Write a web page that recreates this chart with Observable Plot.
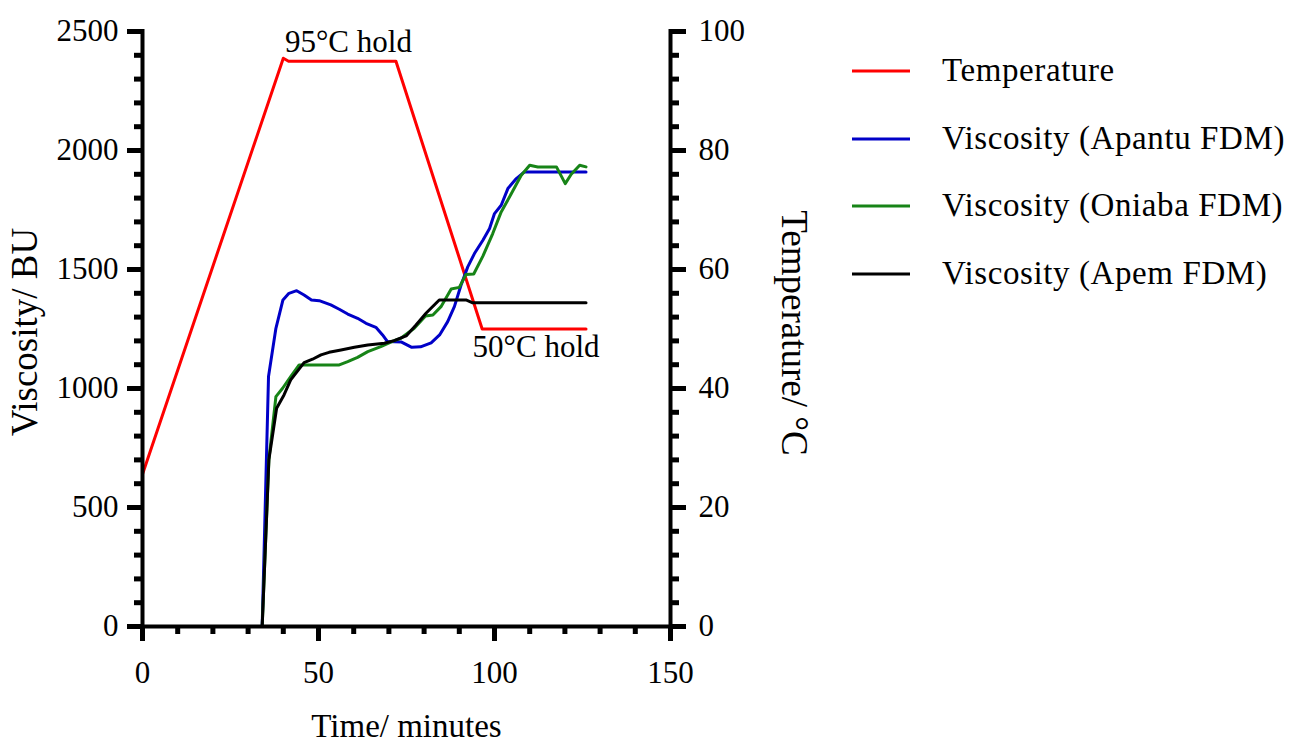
<!DOCTYPE html>
<html>
<head>
<meta charset="utf-8">
<script src="https://cdn.jsdelivr.net/npm/d3@7"></script>
<script src="https://cdn.jsdelivr.net/npm/@observablehq/plot@0.6"></script>
<style>
  html, body { margin: 0; padding: 0; background: #fff; }
  #wrap { position: relative; width: 1294px; height: 741px; }
  .leg { position: absolute; left: 852px; height: 0; font-family: "Liberation Serif", "Times New Roman", Tinos, "DejaVu Serif", serif; font-size: 33px; letter-spacing: 0.6px; color: #000; white-space: nowrap; }
  .leg svg { position: absolute; left: 0; top: -3px; }
  .leg span { position: absolute; left: 90px; top: 0; transform: translateY(-53%); line-height: 1; }
</style>
</head>
<body>
<div id="wrap"></div>
<script>
// ---- data (minutes, value) ----
const temperature = [[0,25.6],[40,95.5],[41.5,95],[72,95],[96.5,50],[126,50]]; // °C
const apantu = [[0,0],[34,0],[35.8,1050],[37.9,1253],[39.9,1372],[41.6,1400],[43.8,1411],[45.9,1393],[48,1372],[50.2,1369],[53.5,1351],[55.9,1333],[58.3,1313],[61.1,1295],[63.5,1274],[66.3,1257],[68.2,1225],[69.6,1197],[73.6,1195],[76.5,1173],[79,1175],[82,1192],[84.4,1225],[86.7,1281],[88.6,1344],[90.5,1435],[92.4,1511],[94.3,1567],[96.7,1623],[98.6,1672],[100,1735],[101.9,1770],[103.8,1840],[106.2,1882],[108.5,1910],[126,1910]];
const oniaba = [[0,0],[34,0],[35.9,700],[37.9,966],[39.8,1001],[42.1,1050],[44.5,1099],[55.9,1099],[58.3,1113],[61.1,1131],[64,1155],[67.7,1176],[71.5,1201],[73.4,1211],[77.2,1253],[80.4,1305],[82.5,1309],[84.8,1344],[87.7,1418],[90,1425],[91.9,1479],[94.1,1481],[96.7,1556],[99.5,1651],[101.9,1742],[104.8,1819],[107.6,1896],[110,1938],[112.3,1931],[117.6,1931],[120.1,1861],[121.8,1900],[124.2,1938],[126,1931]];
const apem = [[0,0],[34,0],[35.9,700],[38.1,917],[40.2,973],[42.1,1036],[45.9,1109],[48.3,1123],[50.7,1141],[53,1152],[56.4,1162],[60.2,1173],[64,1183],[68.7,1190],[71.5,1201],[74.9,1221],[77.7,1267],[80.6,1317],[84.3,1372],[91.9,1372],[93.8,1360],[126,1360]];

const seriesNames = ["Temperature", "Viscosity (Apantu FDM)", "Viscosity (Oniaba FDM)", "Viscosity (Apem FDM)"];
const seriesColors = ["#ff0000", "#0000c8", "#178417", "#000000"];

const xMajorTicks = [0, 50, 100, 150];
const yMajorTicks = [0, 500, 1000, 1500, 2000, 2500];
const tempMajorTicks = [0, 20, 40, 60, 80, 100];
const annotations = [
  {label: "95°C hold", time: 58.5, value: 2412},
  {label: "50°C hold", time: 111.8, value: 1131}
];
const BU_PER_DEG = 25; // right axis: 100 °C ↔ 2500 BU

const tickFont = 31;
const TW = 5; // tick stroke width
const serif = `"Liberation Serif", "Times New Roman", Tinos, "DejaVu Serif", serif`;

const chart = Plot.plot({
  width: 1294,
  height: 741,
  marginLeft: 142,
  marginRight: 624,
  marginTop: 31,
  marginBottom: 115,
  style: {fontFamily: serif, fontSize: tickFont + "px", color: "#000", background: "#fff", overflow: "visible"},
  x: {domain: [0, 150]},
  y: {domain: [0, 2500]},
  marks: [
    // minor ticks
    Plot.axisX({ticks: d3.range(0, 151, 10), tickSize: 8, tickFormat: () => "", strokeWidth: TW, label: null}),
    Plot.axisY({ticks: d3.range(0, 2501, 100), tickSize: 8, tickFormat: () => "", strokeWidth: TW, label: null}),
    Plot.axisY({anchor: "right", ticks: d3.range(0, 2501, 100), tickSize: 8, tickFormat: () => "", strokeWidth: TW, label: null}),
    // major ticks
    Plot.axisX({ticks: xMajorTicks, tickFormat: d => String(d), tickSize: 15, tickPadding: 19, strokeWidth: TW, label: null, fontSize: tickFont}),
    Plot.axisY({ticks: yMajorTicks, tickFormat: d => String(d), tickSize: 15, tickPadding: 9, strokeWidth: TW, label: null, fontSize: tickFont}),
    Plot.axisY({anchor: "right", ticks: tempMajorTicks.map(t => t * BU_PER_DEG), tickFormat: d => String(d / BU_PER_DEG), tickSize: 15, tickPadding: 13, strokeWidth: TW, label: null, fontSize: tickFont}),
    // data lines
    Plot.line(temperature, {x: d => d[0], y: d => d[1] * BU_PER_DEG, stroke: seriesColors[0], strokeWidth: 3}),
    Plot.line(apantu, {x: d => d[0], y: d => d[1], stroke: seriesColors[1], strokeWidth: 3}),
    Plot.line(oniaba, {x: d => d[0], y: d => d[1], stroke: seriesColors[2], strokeWidth: 3}),
    Plot.line(apem, {x: d => d[0], y: d => d[1], stroke: seriesColors[3], strokeWidth: 3}),
    // axis lines
    Plot.ruleX([0], {stroke: "#000", strokeWidth: 4, strokeLinecap: "square"}),
    Plot.ruleX([150], {stroke: "#000", strokeWidth: 4, strokeLinecap: "square"}),
    Plot.ruleY([0], {stroke: "#000", strokeWidth: 4, strokeLinecap: "square"}),
    // annotations
    Plot.text(annotations, {x: "time", y: "value", text: "label", textAnchor: "middle", lineAnchor: "bottom", fontSize: 31}),
    // axis titles
    Plot.text(["Viscosity/ BU"], {frameAnchor: "left", text: d => d, rotate: -90, dx: -117, dy: 3, textAnchor: "middle", lineAnchor: "middle", fontSize: 37, ariaLabel: "y-title"}),
    Plot.text(["Temperature/ °C"], {frameAnchor: "right", text: d => d, rotate: 90, dx: 123, dy: 4, textAnchor: "middle", lineAnchor: "middle", fontSize: 37}),
    Plot.text(["Time/ minutes"], {frameAnchor: "bottom", text: d => d, dy: 110, textAnchor: "middle", lineAnchor: "bottom", fontSize: 33})
  ]
});

// slightly wider letter spacing on the left axis title, as in the reference
chart.querySelectorAll('g[aria-label="y-title"] text').forEach(t => t.setAttribute("letter-spacing", "1px"));

const wrap = document.getElementById("wrap");
wrap.appendChild(chart);

// legend
const legendTop = 71, legendStep = 67.5;
seriesNames.forEach((name, i) => {
  const row = document.createElement("div");
  row.className = "leg";
  row.style.top = (legendTop + i * legendStep) + "px";
  row.innerHTML = `<svg width="60" height="6"><line x1="0" x2="58" y1="3" y2="3" stroke="${seriesColors[i]}" stroke-width="3"/></svg><span>${name}</span>`;
  wrap.appendChild(row);
});
</script>
</body>
</html>
